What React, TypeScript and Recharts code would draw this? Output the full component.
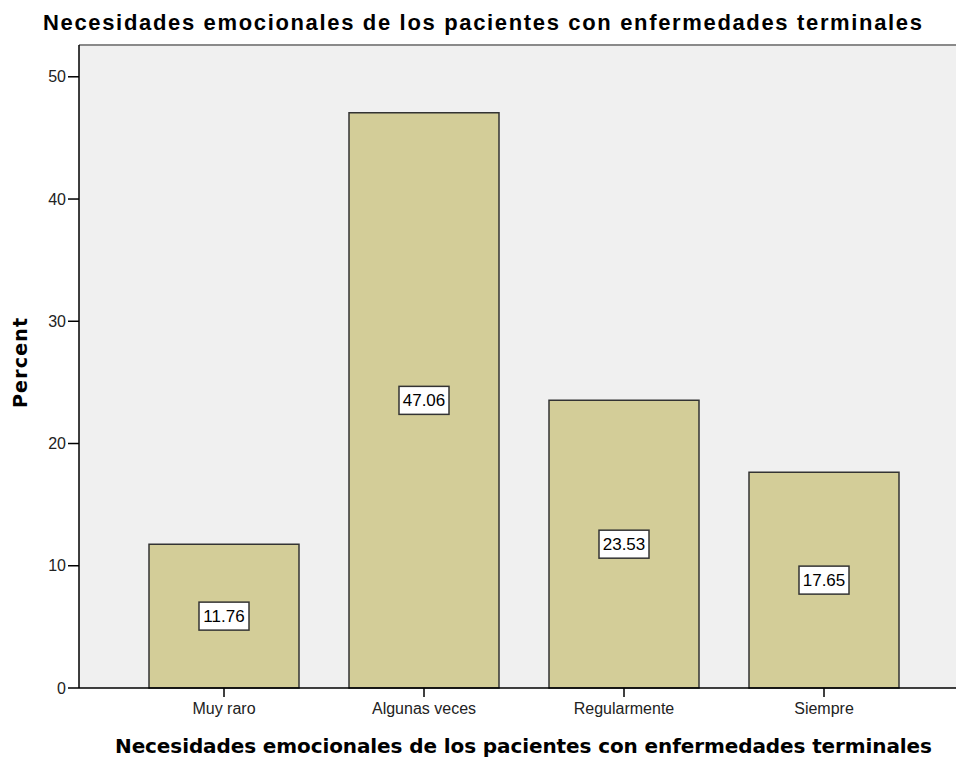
import { BarChart, Bar, XAxis, YAxis, CartesianGrid, LabelList, ReferenceLine } from 'recharts';

const categories = ['Muy raro', 'Algunas veces', 'Regularmente', 'Siempre'];
const percents = [11.76, 47.06, 23.53, 17.65];
const yTicks = [0, 10, 20, 30, 40, 50];

const TITLE = 'Necesidades emocionales de los pacientes con enfermedades terminales';
const Y_MAX = 52.6;

const data = categories.map((name, i) => ({ name, pct: percents[i] }));

const ValueBox = (props: any) => {
  const { x, y, width, height, value } = props;
  const cx = x + width / 2;
  const cy = y + height / 2;
  return (
    <g>
      <rect x={cx - 25} y={cy - 14} width={50} height={28} fill="#fff" stroke="#333" strokeWidth={1.5} />
      <text x={cx} y={cy + 6} textAnchor="middle" fontSize={17} fontFamily="Liberation Sans, Arial" fill="#000">
        {Number(value).toFixed(2)}
      </text>
    </g>
  );
};

export default function App() {
  return (
    <div style={{ position: 'absolute', left: 0, top: 0, width: 956, height: 759, overflow: 'hidden', background: '#fff' }}>
      <svg width={956} height={40} style={{ position: 'absolute', left: 0, top: 0 }}>
        <text
          x={43}
          y={30}
          textLength={879}
          lengthAdjust="spacing"
          fontSize={22}
          fontWeight="bold"
          fontFamily="Liberation Sans, Arial"
          fill="#000"
        >
          {TITLE}
        </text>
      </svg>
      <div style={{ position: 'absolute', left: 0, top: 0 }}>
        <BarChart width={975} height={759} data={data} margin={{ top: 45, right: 6, bottom: 0, left: 0 }}>
          <CartesianGrid fill="#f0f0f0" stroke="none" horizontal={false} vertical={false} />
          <ReferenceLine y={Y_MAX} stroke="#8a8a8a" strokeWidth={2} />
          <XAxis
            dataKey="name"
            interval={0}
            padding={{ left: 45, right: 45 }}
            height={71}
            tickSize={9}
            tickMargin={6}
            axisLine={{ stroke: '#000', strokeWidth: 1.5 }}
            tickLine={{ stroke: '#000', strokeWidth: 1.5 }}
            tick={{ fill: '#222', fontSize: 16, fontFamily: 'Liberation Sans, Arial' }}
            label={{
              content: () => (
                <text
                  x={115}
                  y={753}
                  textLength={817}
                  lengthAdjust="spacing"
                  fontSize={20}
                  fontWeight="bold"
                  fontFamily="DejaVu Sans"
                  fill="#000"
                >
                  {TITLE}
                </text>
              ),
            }}
          />
          <YAxis
            width={79}
            domain={[0, Y_MAX]}
            ticks={yTicks}
            tickSize={11}
            tickMargin={2}
            axisLine={{ stroke: '#000', strokeWidth: 1.5 }}
            tickLine={{ stroke: '#000', strokeWidth: 1.5 }}
            tick={{ fill: '#222', fontSize: 16, fontFamily: 'Liberation Sans, Arial' }}
            label={{
              content: () => (
                <text
                  x={27}
                  y={363}
                  transform="rotate(-90 27 363)"
                  textAnchor="middle"
                  textLength={90}
                  lengthAdjust="spacing"
                  fontSize={19}
                  fontWeight="bold"
                  fontFamily="DejaVu Sans"
                  fill="#000"
                >
                  Percent
                </text>
              ),
            }}
          />
          <Bar dataKey="pct" barSize={150} fill="#d3cd98" stroke="#333" strokeWidth={1.5} isAnimationActive={false}>
            <LabelList dataKey="pct" content={ValueBox} />
          </Bar>
        </BarChart>
      </div>
    </div>
  );
}
